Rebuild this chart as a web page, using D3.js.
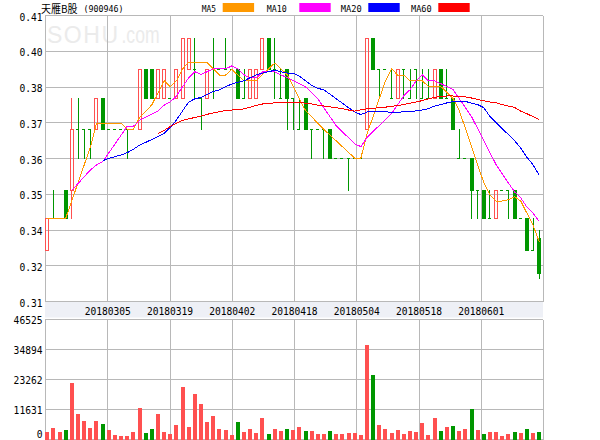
<!DOCTYPE html>
<html><head><meta charset="utf-8">
<script src="https://cdn.jsdelivr.net/npm/d3@7"></script>
<style>body{margin:0;background:#fff}svg{display:block}</style>
</head><body>
<svg id="c" width="600" height="440"></svg>
<script>
const dates = ["20180212","20180213","20180214","20180222","20180223","20180226","20180227","20180228","20180301","20180302",
"20180305","20180306","20180307","20180308","20180309","20180312","20180313","20180314","20180315","20180316",
"20180319","20180320","20180321","20180322","20180323","20180326","20180327","20180328","20180329","20180330",
"20180402","20180403","20180404","20180409","20180410","20180411","20180412","20180413","20180416","20180417",
"20180418","20180419","20180420","20180423","20180424","20180425","20180426","20180427","20180502","20180503",
"20180504","20180507","20180508","20180509","20180510","20180511","20180514","20180515","20180516","20180517",
"20180518","20180521","20180522","20180523","20180524","20180525","20180528","20180529","20180530","20180531",
"20180601","20180604","20180605","20180606","20180607","20180608","20180611","20180612","20180613","20180614",
"20180615"];
const openP = [.328,.339,.339,.349,.349,.370,.370,.370,.370,.381,
.370,.370,.370,.370,.370,.370,.391,.391,.381,.381,
.381,.381,.381,.391,.391,.381,.381,.391,.391,.391,
.391,.391,.381,.381,.381,.391,.402,.391,.381,.391,
.381,.370,.381,.370,.370,.370,.370,.360,.360,.360,
.360,.360,.370,.402,.391,.391,.381,.381,.391,.381,
.391,.381,.381,.381,.391,.381,.381,.360,.360,.360,
.349,.349,.339,.339,.349,.349,.349,.339,.339,.328,
.332];
const closeP = [.339,.339,.339,.339,.370,.370,.370,.370,.381,.370,
.370,.370,.370,.370,.370,.391,.381,.381,.391,.391,
.381,.391,.402,.402,.391,.381,.391,.391,.391,.391,
.391,.381,.381,.391,.391,.402,.391,.391,.381,.381,
.381,.370,.370,.370,.370,.370,.360,.360,.360,.360,
.360,.360,.402,.391,.391,.391,.381,.391,.391,.381,
.391,.381,.381,.391,.381,.381,.370,.360,.360,.349,
.349,.339,.339,.349,.349,.349,.339,.339,.328,.328,
.320];
const highP = [.339,.349,.339,.349,.381,.381,.370,.370,.381,.381,
.370,.370,.370,.370,.370,.391,.391,.391,.391,.391,
.381,.391,.402,.402,.402,.381,.391,.402,.391,.402,
.391,.391,.391,.391,.391,.402,.402,.402,.391,.391,
.381,.381,.381,.370,.370,.370,.370,.360,.360,.360,
.360,.360,.402,.402,.391,.391,.391,.391,.391,.391,
.391,.391,.391,.391,.391,.391,.381,.370,.360,.360,
.349,.349,.349,.349,.349,.349,.349,.339,.339,.339,
.335];
const lowP = [.328,.339,.339,.339,.339,.360,.360,.360,.370,.370,
.370,.370,.370,.360,.370,.370,.381,.381,.381,.381,
.381,.381,.381,.391,.381,.370,.381,.381,.391,.391,
.391,.381,.381,.381,.381,.391,.391,.381,.381,.370,
.370,.370,.370,.360,.370,.360,.360,.360,.360,.349,
.360,.360,.370,.391,.381,.391,.381,.381,.381,.381,
.381,.381,.381,.381,.381,.381,.370,.360,.360,.339,
.339,.339,.339,.339,.349,.339,.339,.339,.328,.328,
.318];
const volume = [2650,4200,2910,3680,21900,9890,7170,4460,7170,6010,
3680,1740,1360,1360,2910,12210,2520,4070,9890,2910,
2130,5620,20350,4850,17640,13760,6780,9110,4070,3680,
1740,6780,2910,4070,2520,8340,2130,4070,3300,4070,
3680,4850,3300,3300,2130,2130,3300,2130,2130,2520,
2520,1740,36640,25010,5620,4070,2520,3680,2130,3300,
2910,6400,1740,8340,3300,4850,5230,3300,4070,11825,
3680,2130,2910,2910,1360,2130,2910,2520,4070,2520,
2910];
const ma5 = [.339,.339,.339,.339,.3452,.3514,.3576,.3638,.3722,.3722,
.3722,.3722,.3722,.370,.370,.3742,.3764,.3786,.3828,.387,
.385,.387,.3912,.3934,.3934,.3934,.3934,.3912,.389,.389,
.391,.389,.387,.387,.387,.3892,.3912,.3932,.3912,.3892,
.385,.3808,.3766,.3744,.3722,.370,.368,.366,.364,.362,
.360,.360,.3684,.3746,.3808,.387,.3912,.389,.389,.387,
.387,.387,.385,.385,.385,.383,.3808,.3766,.3704,.364,
.3576,.3514,.3472,.345,.345,.3455,.3465,.345,.3408,.3366,
.3308];
const ma10 = [null,null,null,null,.3488,.3511,.3535,.3558,.3576,.3587,
.3618,.3649,.368,.3711,.3711,.3732,.3743,.3754,.3764,.3785,
.3796,.3817,.3849,.3881,.3902,.3892,.3902,.3912,.3912,.3912,
.3922,.3912,.3891,.388,.388,.3901,.3901,.3901,.3891,.3881,
.3871,.386,.3849,.3828,.3807,.3775,.3744,.3713,.3692,.3671,
.365,.364,.3672,.3693,.3714,.3735,.3756,.3787,.3818,.3839,
.387,.3891,.387,.387,.386,.385,.3839,.3808,.3777,.3745,
.3703,.3661,.3619,.3577,.3545,.3513,.3482,.3461,.3429,.3408,
.3379];
const ma20 = [null,null,null,null,null,null,null,null,null,.3591,
.3599,.3605,.3611,.3619,.3631,.3645,.3655,.3665,.3675,.3686,
.3707,.3733,.3765,.3796,.3807,.3812,.3823,.3833,.3838,.3849,
.3859,.3865,.387,.3881,.3891,.3897,.3902,.3907,.3902,.3897,
.3897,.3886,.387,.3854,.3844,.3838,.3823,.3807,.3792,.3776,
.3761,.3752,.3761,.3763,.3764,.3762,.3760,.3760,.3762,.3762,
.3765,.3768,.3773,.3782,.3787,.3793,.3798,.3798,.3798,.3792,
.3787,.3776,.3745,.3724,.3703,.3682,.3661,.3635,.3603,.3577,
.3541];
const ma60 = [null,null,null,null,null,null,null,null,null,null,
null,null,null,null,null,null,null,null,.3686,.3697,
.3710,.3722,.3732,.3737,.3742,.3747,.3753,.3758,.3762,.3766,
.3768,.3770,.3772,.3778,.3784,.3789,.3791,.3793,.3794,.3795,
.3796,.3794,.3792,.3789,.3785,.3782,.3779,.3776,.3773,.3768,
.3764,.3769,.3772,.3774,.3776,.3778,.3781,.3784,.3787,.3792,
.3796,.3801,.3807,.3812,.3816,.3817,.3817,.3816,.3814,.3810,
.3805,.3800,.3796,.3793,.3787,.3782,.3777,.3764,.3755,.3745,
.3735];
const priceTicks = [0.41,0.3975,0.385,0.3725,0.36,0.3475,0.335,0.3225,0.31];
const priceTickLabels = ["0.41","0.40","0.38","0.37","0.36","0.35","0.34","0.32","0.31"];
const volTicks = [46525,34894,23262,11631,0];
const volTickLabels = ["46525","34894","23262","11631","0"];
const dateTickLabels = ["20180305","20180319","20180402","20180418","20180504","20180518","20180601"];
const maNames = ["MA5","MA10","MA20","MA60"];
const maColors = ["#ff9900","#ff00ff","#0000ff","#ff0000"];

const svg = d3.select("#c");
const L=45, R=543, PT=15, PB=301.2, VT=319.3, VB=439.3;
const x = d3.scaleBand().domain(dates).range([L,R]).padding(0);
const cx = d => x(d) + 2.3;
const y = d3.scaleLinear().domain([0.31,0.41]).range([PB,PT]);
const yv = d3.scaleLinear().domain([0,46525]).range([VB,VT]);
const gx = d3.scaleLinear().domain([0,8]).range([L,R]);
const px = v => Math.round(v)+0.5;
const grid = "#b8b8b8";
const RED = "#ff5050", GREEN = "#009600";
const mono = "'DejaVu Sans Mono', monospace";

// date band
svg.append("rect").attr("x",L).attr("y",302).attr("width",R-L).attr("height",15.5).attr("fill","#eef0f6");

// watermark
const wm = svg.append("text").attr("x",47).attr("y",43).attr("font-family","'Liberation Sans', Arial, sans-serif")
  .attr("font-size",23).attr("fill","#ebebeb");
wm.append("tspan").attr("textLength",71).attr("lengthAdjust","spacing").text("SOHU");
wm.append("tspan").attr("dx",2).attr("textLength",38).attr("lengthAdjust","spacingAndGlyphs").text(".com");

const gP = svg.append("g").attr("shape-rendering","crispEdges");
gP.selectAll(".hp").data(priceTicks).join("line")
  .attr("x1",L).attr("x2",R).attr("y1",d=>px(y(d))).attr("y2",d=>px(y(d))).attr("stroke",grid);
const vk = d3.range(0,9);
gP.selectAll(".vp").data(vk).join("line")
  .attr("x1",k=>px(gx(k))).attr("x2",k=>px(gx(k))).attr("y1",px(y(0.41))).attr("y2",px(y(0.31))).attr("stroke",grid);
gP.selectAll(".vv").data(vk).join("line")
  .attr("x1",k=>px(gx(k))).attr("x2",k=>px(gx(k))).attr("y1",px(yv(46525))).attr("y2",440).attr("stroke",grid);
gP.selectAll(".hv").data(volTicks).join("line")
  .attr("x1",L).attr("x2",R).attr("y1",d=>px(yv(d))).attr("y2",d=>px(yv(d))).attr("stroke",grid);

svg.selectAll(".pl").data(priceTicks).join("text")
  .attr("x",42.5).attr("y",d=>y(d)+5.5).attr("text-anchor","end")
  .attr("font-family",mono).attr("font-size",9.6).attr("fill","#000")
  .text((d,i)=>priceTickLabels[i]);
svg.selectAll(".vl").data(volTicks).join("text")
  .attr("x",42.5).attr("y",d=>Math.min(yv(d)+5,438)).attr("text-anchor","end")
  .attr("font-family",mono).attr("font-size",9.6).attr("fill","#000")
  .text((d,i)=>volTickLabels[i]);
svg.selectAll(".dl").data(dateTickLabels).join("text")
  .attr("x",(d,i)=>gx(i+1)+0.5).attr("y",315).attr("text-anchor","middle")
  .attr("font-family",mono).attr("font-size",9.6).attr("fill","#000").text(d=>d);

// volume bars
svg.append("g").attr("shape-rendering","crispEdges").selectAll("rect").data(dates).join("rect")
  .attr("x",(d)=>Math.round(cx(d)-2)).attr("width",4)
  .attr("y",(d,i)=>yv(volume[i])).attr("height",(d,i)=>VB+0.7-yv(volume[i]))
  .attr("fill",(d,i)=>closeP[i]>=openP[i]?RED:GREEN);

// candles
const gc = svg.append("g").attr("shape-rendering","crispEdges");
dates.forEach((d,i)=>{
  const o=openP[i], c=closeP[i], h=highP[i], l=lowP[i];
  const xc = cx(d), wx = Math.floor(xc)+0.5, left = Math.round(xc-2);
  const yO = Math.round(y(o)), yC = Math.round(y(c)), yH = Math.round(y(h)), yL = Math.round(y(l));
  if (c > o) {
    if (yH < yC) gc.append("line").attr("x1",wx).attr("x2",wx).attr("y1",yH).attr("y2",yC).attr("stroke",RED);
    if (yL > yO) gc.append("line").attr("x1",wx).attr("x2",wx).attr("y1",yO).attr("y2",yL+1).attr("stroke",RED);
    gc.append("rect").attr("x",left+0.5).attr("y",yC+0.5).attr("width",3).attr("height",yO-yC)
      .attr("fill","none").attr("stroke",RED);
  } else if (c < o) {
    gc.append("line").attr("x1",wx).attr("x2",wx).attr("y1",yH).attr("y2",yL+1).attr("stroke",GREEN);
    gc.append("rect").attr("x",left).attr("y",yO).attr("width",4).attr("height",Math.max(1,yC-yO+1)).attr("fill",GREEN);
  } else {
    if (yL > yH) gc.append("line").attr("x1",wx).attr("x2",wx).attr("y1",yH).attr("y2",yL+1).attr("stroke",GREEN);
    gc.append("line").attr("x1",left).attr("x2",left+3).attr("y1",yO+0.5).attr("y2",yO+0.5).attr("stroke",GREEN);
  }
});

// moving averages
const series = [ma5, ma10, ma20, ma60];
series.forEach((s,k)=>{
  const line = d3.line().defined(v=>v!=null).x((v,i)=>cx(dates[i])).y(v=>y(v));
  svg.append("path").datum(s).attr("d",line).attr("fill","none")
    .attr("stroke",maColors[k]).attr("stroke-width",1).attr("shape-rendering","crispEdges");
});

// title
svg.append("text").attr("x",41).attr("y",12.5).attr("font-family","'Noto Sans CJK SC', sans-serif")
  .attr("font-size",11).attr("textLength",36.5).attr("lengthAdjust","spacingAndGlyphs")
  .attr("fill","#000").text("天雁B股");
svg.append("text").attr("x",83.5).attr("y",12).attr("font-family",mono).attr("font-size",9)
  .attr("textLength",40).attr("lengthAdjust","spacingAndGlyphs").attr("fill","#000").text("(900946)");

// legend
const legX = [201.7, 266.7, 340.7, 411];
const legW = [14.3, 20, 21, 20.7];
const swX = [222.7, 299.3, 368.3, 438.3];
maNames.forEach((n,k)=>{
  svg.append("text").attr("x",legX[k]).attr("y",11.5).attr("font-family",mono).attr("font-size",9)
    .attr("textLength",legW[k]).attr("lengthAdjust","spacingAndGlyphs").attr("fill","#000").text(n);
  svg.append("rect").attr("x",swX[k]).attr("y",3).attr("width",31.4).attr("height",9).attr("fill",maColors[k]);
});
</script>
</body></html>
